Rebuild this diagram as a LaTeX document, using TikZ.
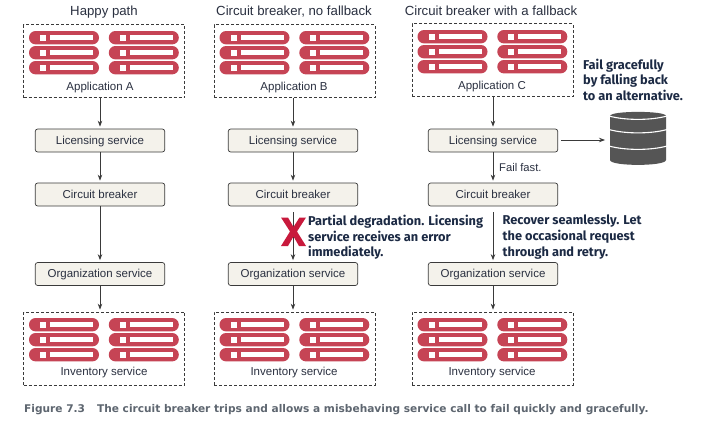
\documentclass[tikz,border=0pt]{standalone}
\usepackage{fontspec}
\setmainfont{Liberation Sans}
\newfontfamily\calloutfont{Fira Sans}
\newfontfamily\captionfont{DejaVu Sans}
\usetikzlibrary{arrows.meta}
\definecolor{srv}{HTML}{C64455}
\definecolor{boxfill}{HTML}{F4F2EB}
\definecolor{ink}{HTML}{3A3A3A}
\definecolor{txt}{HTML}{2A3040}
\definecolor{dbgray}{HTML}{555555}
\definecolor{xred}{HTML}{C8193C}
\definecolor{note}{HTML}{1C2A44}
\definecolor{capt}{HTML}{5E6670}
\tikzset{
  svc/.style={draw=ink,fill=boxfill,rounded corners=2.5pt,line width=0.7pt,minimum width=129.5pt,minimum height=23pt,inner sep=0pt,text=txt,font=\fontsize{11.5}{12}\selectfont,text height=9.5pt,text depth=2pt},
  group/.style={draw=ink,dashed,dash pattern=on 3pt off 2pt,line width=0.7pt,minimum width=161pt,minimum height=73pt,inner sep=0pt},
  grouplabel/.style={text=txt,font=\fontsize{11.5}{12}\selectfont,inner sep=0pt,text height=8pt,text depth=2.5pt},
  heading/.style={text=txt,font=\fontsize{13.2}{14}\selectfont,inner sep=0pt,text height=9.5pt,text depth=3pt},
  flow/.style={draw=ink,line width=0.8pt,-{Stealth[length=6pt,width=4.5pt]}},
  callout/.style={text=note,font=\calloutfont\bfseries\fontsize{12.8}{15.6}\selectfont,align=left,inner sep=0pt,anchor=north west},
  pill/.style={fill=srv,rounded corners=6.6pt},
  slot/.style={fill=white},
}
\newcommand{\pillat}[2]{%
  \fill[pill] (#1,#2-6.7) rectangle ++(70,13.4);
  \fill[slot] (#1+11,#2-3) rectangle ++(6,6);
  \fill[slot] (#1+21,#2-2.4) rectangle ++(43,4.8);
}
\newcommand{\rack}[2]{% box centre x, first row y
  \pillat{#1-75}{#2}\pillat{#1+4.8}{#2}
  \pillat{#1-75}{#2+15}\pillat{#1+4.8}{#2+15}
  \pillat{#1-75}{#2+30}\pillat{#1+4.8}{#2+30}
}
\begin{document}
\begin{tikzpicture}[x=1pt,y=-1pt]
\useasboundingbox (0,0) rectangle (703,421);
\fill[white] (0,0) rectangle (703,421);
% headings
\node[heading] (hA) at (104,12) {Happy path};
\node[heading] (hB) at (294,12) {Circuit breaker, no fallback};
\node[heading] (hC) at (491,12) {Circuit breaker with a fallback};
% top groups
\node[group] (appA) at (104,61) {};
\node[group] (appB) at (294.5,61) {};
\node[group] (appC) at (492.5,60) {};
\rack{104}{37.7}\rack{294.5}{37.7}\rack{492.5}{36.7}
\node[grouplabel] (lA) at (100,87.5) {Application A};
\node[grouplabel] (lB) at (294,87.5) {Application B};
\node[grouplabel] (lC) at (492,86.5) {Application C};
% services
\foreach \n/\x in {A/100,B/293,C/493}{
  \node[svc] (lic\n) at (\x,140.5) {Licensing service};
  \node[svc] (cb\n) at (\x,194.5) {Circuit breaker};
  \node[svc] (org\n) at (\x,274) {Organization service};
}
% bottom groups
\node[group] (invA) at (104,348.5) {};
\node[group] (invB) at (294.5,348.5) {};
\node[group] (invC) at (492.5,348.5) {};
\rack{104}{324.7}\rack{294.5}{324.7}\rack{492.5}{324.7}
\node[grouplabel] (iA) at (104,372.5) {Inventory service};
\node[grouplabel] (iB) at (294,372.5) {Inventory service};
\node[grouplabel] (iC) at (492,372.5) {Inventory service};
% connectors
\foreach \n in {A,B,C}{
  \draw[flow,shorten >=2pt] (app\n.south -| lic\n) -- (lic\n);
  \draw[flow,shorten >=2pt] (lic\n) -- (cb\n);
  \draw[flow,shorten >=2pt] (org\n) -- (org\n |- inv\n.north);
}
\draw[flow,shorten >=2pt] (cbA) -- (orgA);
\draw[flow,shorten <=6pt,shorten >=2pt] (cbB) -- (orgB);
\draw[flow,shorten <=6pt,shorten >=2pt] (cbC) -- (orgC);
% database
\coordinate (dbW) at (605,140);
\draw[flow,shorten <=3pt] (licC.east |- dbW) -- (dbW);
\fill[dbgray] (610,116) .. controls (610,110.5) and (666,110.5) .. (666,116) -- (666,160) .. controls (666,166.5) and (610,166.5) .. (610,160) -- cycle;
\foreach \yy in {116,129.5,146}{
  \draw[white,line width=1.1pt] (609,\yy) .. controls (625,\yy+4.5) and (651,\yy+4.5) .. (667,\yy);
}
% X mark
\fill[xred] (281,217.5) -- (288,217.5) -- (293.5,227) -- (299.5,217.5) -- (306,217.5) -- (297,231.5) -- (306,246) -- (299,246) -- (293.5,236.5) -- (288,246) -- (281,246) -- (290,231.5) -- cycle;
% notes
\node[callout] (nA) at (583,58.5) {Fail gracefully\\by falling back\\to an alternative.};
\node[callout] (nB) at (308,215) {Partial degradation. Licensing\\service receives an error\\immediately.};
\node[callout] (nC) at (502.5,215) {Recover seamlessly. Let\\the occasional request\\through and retry.};
\node[anchor=west,inner sep=0pt,text=txt,font=\fontsize{11.2}{12}\selectfont] (ff) at (499,167.5) {Fail fast.};
% caption
\node[anchor=west,inner sep=0pt,text=capt,font=\captionfont\bfseries\fontsize{10.6}{12}\selectfont] (cap) at (24,410) {Figure 7.3\hspace{12pt}The circuit breaker trips and allows a misbehaving service call to fail quickly and gracefully.};
\end{tikzpicture}
\end{document}
